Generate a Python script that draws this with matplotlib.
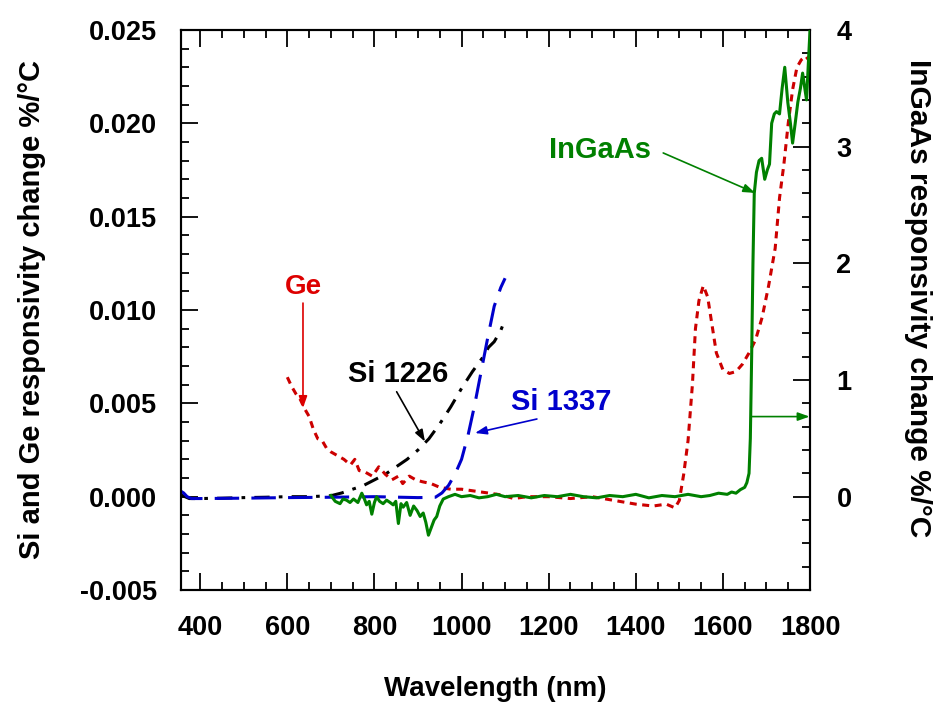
import matplotlib
matplotlib.use('Agg')
import matplotlib.pyplot as plt
from matplotlib.ticker import MultipleLocator, FormatStrFormatter

plt.rcParams['font.family'] = ['Liberation Sans', 'DejaVu Sans']
plt.rcParams['font.weight'] = 'bold'

# Si 1226 (black, dash-dot), left axis
si1226_wl = [355, 365, 375, 400, 450, 500, 550, 600, 650, 700, 725, 750, 775, 800,
             825, 850, 875, 900, 925, 950, 975, 1000, 1025, 1050, 1062, 1075, 1090, 1100]
si1226_val = [0.0001, 0.0, -0.0001, -0.0001, -0.00008, -0.00005, -0.00003, 0.0, 0.0, 0.00005,
              0.0002, 0.0004, 0.0006, 0.0009, 0.0012, 0.0016, 0.0020, 0.0025, 0.0031,
              0.0039, 0.0048, 0.0058, 0.0067, 0.0075, 0.0080, 0.0083, 0.0089, 0.0095]

# Si 1337 (blue, dashed), left axis
si1337_wl = [355, 362, 370, 380, 400, 500, 600, 700, 800, 900, 940, 955, 970, 985,
             1000, 1015, 1030, 1045, 1060, 1075, 1090, 1100]
si1337_val = [0.0003, 0.0002, 0.0, -0.0001, -0.0001, -0.00008, -0.00005, -0.00003, 0.0, -0.00005,
              -0.00003, 0.0002, 0.0006, 0.0012, 0.0020, 0.0033, 0.0049, 0.0067, 0.0085,
              0.0102, 0.0112, 0.0117]

# Ge (red, dotted), left axis
ge_wl = [600, 610, 620, 630, 640, 650, 660, 670, 680, 690, 700, 715, 730, 745, 755, 765,
         780, 795, 810, 825, 840, 855, 865, 880, 895, 910, 930, 950, 975, 1000, 1030, 1060,
         1090, 1120, 1150, 1200, 1250, 1300, 1350, 1400, 1440, 1470, 1490, 1500, 1510,
         1520, 1530, 1537, 1545, 1555, 1565, 1575, 1585, 1600, 1615, 1630, 1645, 1660,
         1675, 1690, 1705, 1720, 1730, 1740, 1750, 1760, 1770, 1780, 1790, 1800]
ge_val = [0.0064, 0.0059, 0.0055, 0.0052, 0.0047, 0.0043, 0.0036, 0.0031, 0.0030, 0.0026,
          0.0024, 0.0022, 0.0020, 0.0017, 0.0020, 0.0014, 0.0013, 0.0011, 0.0016, 0.0012,
          0.0009, 0.0011, 0.0007, 0.0011, 0.0009, 0.0008, 0.0007, 0.0005, 0.0004, 0.0004,
          0.0003, 0.0002, 0.0001, -0.0001, 0.0, 0.0, -0.0001, 0.0, -0.0002, -0.0004,
          -0.0005, -0.0004, -0.0006, -0.0002, 0.0012, 0.0030, 0.0060, 0.0090, 0.0105,
          0.0113, 0.0107, 0.0092, 0.0077, 0.0068, 0.0066, 0.0067, 0.0071, 0.0077, 0.0084,
          0.0096, 0.0113, 0.0133, 0.0160, 0.0178, 0.0200, 0.0218, 0.0230, 0.0234, 0.0236,
          0.0233]

# InGaAs (green, solid), right axis
ingaas_wl = [700, 710, 721, 728, 736, 744, 752, 762, 771, 777, 782, 788, 794, 800, 805,
             812, 820, 828, 836, 843, 849, 855, 861, 866, 874, 882, 890, 898, 905, 912,
             918, 924, 930, 937, 943, 950, 958, 970, 985, 1000, 1020, 1040, 1060, 1080,
             1100, 1130, 1160, 1190, 1220, 1250, 1280, 1310, 1340, 1370, 1400, 1430, 1460,
             1490, 1520, 1550, 1570, 1590, 1610, 1620, 1630, 1640, 1650, 1655, 1660, 1663,
             1666, 1669, 1672, 1677, 1683, 1689, 1696, 1702, 1707, 1712, 1718, 1723, 1730,
             1736, 1742, 1749, 1755, 1760, 1766, 1772, 1778, 1783, 1788, 1792, 1796, 1800]
ingaas_val = [0.01, -0.04, -0.06, -0.02, -0.03, -0.05, -0.02, -0.05, 0.03, -0.02, -0.07,
              -0.04, -0.15, -0.05, 0.0, -0.04, -0.06, -0.03, -0.05, -0.07, -0.04, -0.23,
              -0.06, -0.09, -0.05, -0.16, -0.08, -0.12, -0.17, -0.14, -0.22, -0.33, -0.27,
              -0.2, -0.17, -0.08, -0.02, 0.0, 0.02, 0.0, 0.01, -0.01, 0.0, 0.02, 0.0, 0.01,
              -0.01, 0.01, 0.0, 0.02, 0.0, -0.01, 0.01, 0.0, 0.02, -0.01, 0.01, 0.0, 0.02,
              0.0, 0.01, 0.03, 0.02, 0.04, 0.03, 0.06, 0.08, 0.12, 0.2, 0.5, 1.2, 2.0, 2.6,
              2.78, 2.88, 2.9, 2.72, 2.8, 2.85, 3.2, 3.28, 3.3, 3.28, 3.5, 3.68, 3.38, 3.2,
              3.03, 3.2, 3.38, 3.5, 3.63, 3.5, 3.4, 3.7, 4.0]

fig = plt.figure(figsize=(9.36, 7.09), dpi=100)
ax = fig.add_axes([0.1934, 0.1678, 0.672, 0.79])
ax2 = ax.twinx()

ax.plot(si1226_wl, si1226_val, color='black', lw=2.2, ls=(0, (5, 3, 1.2, 3)), zorder=3)
ax.plot(ge_wl, ge_val, color='#cc0000', lw=2.2, ls=(0, (2.3, 1.8)), zorder=3)
ax.plot(si1337_wl, si1337_val, color='#0000cc', lw=2.2, ls=(0, (8, 4)), zorder=4)
ax2.plot(ingaas_wl, ingaas_val, color='#008000', lw=2.2, zorder=3)

ax.set_xlim(356, 1800)
ax.set_ylim(-0.005, 0.025)
ax2.set_ylim(-0.8, 4)

ax.xaxis.set_major_locator(MultipleLocator(200))
ax.xaxis.set_minor_locator(MultipleLocator(50))
ax.yaxis.set_major_locator(MultipleLocator(0.005))
ax.yaxis.set_minor_locator(MultipleLocator(0.001))
ax.yaxis.set_major_formatter(FormatStrFormatter('%.3f'))
ax2.yaxis.set_minor_locator(MultipleLocator(0.2))
ax2.set_yticks([0, 1, 2, 3, 4])

ax.tick_params(which='both', direction='in', top=True, right=False, width=1.3, labelsize=19.5)
ax.tick_params(axis='y', pad=17)
ax.tick_params(axis='x', pad=18)
ax.tick_params(which='major', length=12)
ax.tick_params(which='minor', length=6)
ax2.tick_params(which='both', direction='in', width=1.3, labelsize=19.5, pad=19)
ax2.tick_params(which='major', length=12)
ax2.tick_params(which='minor', length=6)
for a in (ax, ax2):
    for s in a.spines.values():
        s.set_linewidth(1.5)
    for lab in a.get_xticklabels() + a.get_yticklabels():
        lab.set_fontweight('bold')

ax.set_xlabel('Wavelength (nm)', fontsize=20, fontweight='bold', labelpad=25)
ax.set_ylabel('Si and Ge responsivity change %/°C', fontsize=21, fontweight='bold', labelpad=25)
ax2.set_ylabel('InGaAs responsivity change %/°C', fontsize=21.5, fontweight='bold',
               rotation=270, labelpad=58)
ax2.yaxis.label.set_y(0.521)

aprops = dict(arrowstyle='-|>,head_length=0.7,head_width=0.25', lw=1.2, shrinkA=0, shrinkB=0)

# labels
ax.text(636, 0.01123, 'Ge', color='#dd0000', fontsize=20, fontweight='bold', ha='center', va='center')
ax.text(854, 0.00657, 'Si 1226', color='black', fontsize=21, fontweight='bold', ha='center', va='center')
ax.text(1228, 0.00507, 'Si 1337', color='#0000cc', fontsize=21, fontweight='bold', ha='center', va='center')
ax.text(1318, 0.01857, 'InGaAs', color='#008000', fontsize=21, fontweight='bold', ha='center', va='center')

# arrows
ax.annotate('', xy=(636, 0.00475), xytext=(636, 0.01037), arrowprops=dict(aprops, color='#dd0000'))
ax.annotate('', xy=(916, 0.00295), xytext=(851, 0.00562), arrowprops=dict(aprops, color='black'))
ax.annotate('', xy=(1031, 0.00341), xytext=(1173, 0.00416), arrowprops=dict(aprops, color='#0000cc'))
ax.annotate('', xy=(1674, 0.01627), xytext=(1463, 0.01841), arrowprops=dict(aprops, color='#008000'))
ax.annotate('', xy=(1799, 0.00429), xytext=(1666, 0.00429), arrowprops=dict(aprops, color='#008000'))

plt.savefig('out.png', dpi=100)
